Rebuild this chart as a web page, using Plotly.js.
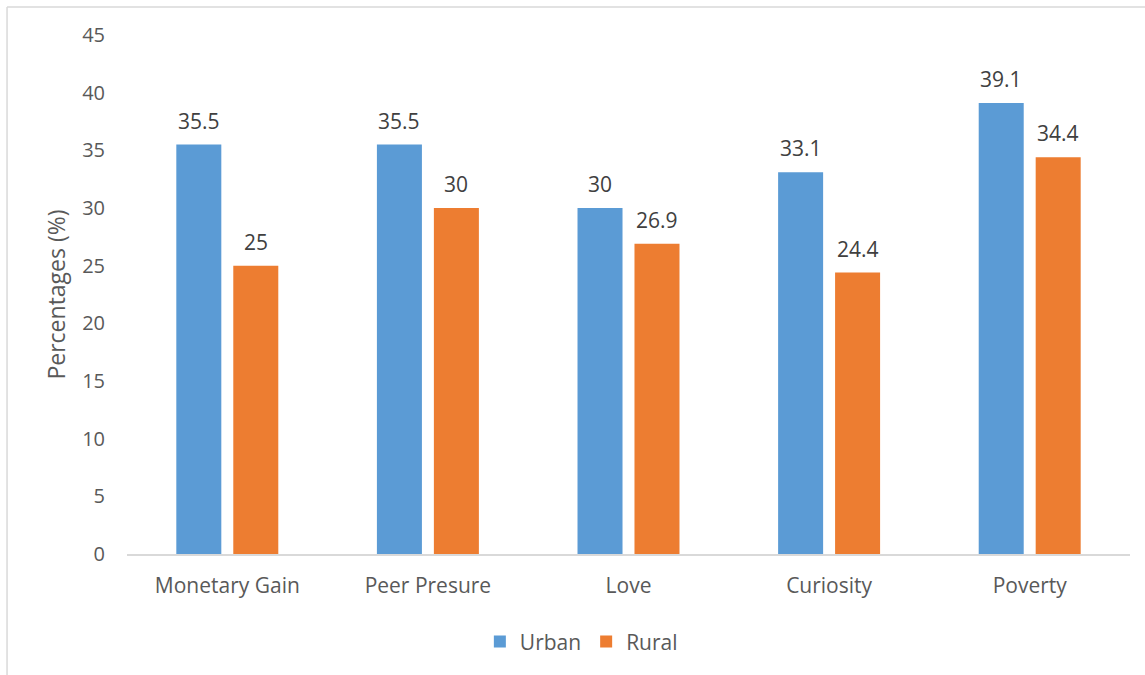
<!DOCTYPE html>
<html>
<head>
<meta charset="utf-8">
<script src="https://cdn.plot.ly/plotly-3.0.1.min.js"></script>
<style>html,body{margin:0;padding:0;background:#fff;}#chart{width:1145px;height:675px;}</style>
</head>
<body>
<div id="chart"></div>
<script>
const categories = ["Monetary Gain", "Peer Presure", "Love", "Curiosity", "Poverty"];
const urban = [35.5, 35.5, 30, 33.1, 39.1];
const rural = [25, 30, 26.9, 24.4, 34.4];
const yTicks = [0, 5, 10, 15, 20, 25, 30, 35, 40, 45];

const fontFam = "Open Sans, Noto Sans, sans-serif";
const BARGAP = 0.432, GROUPGAP = 0.21;
const off = (1 - BARGAP) / 4;

const traces = [
  {type: "bar", name: "Urban", x: categories, y: urban, marker: {color: "#5B9BD5"}},
  {type: "bar", name: "Rural", x: categories, y: rural, marker: {color: "#ED7D31"}}
];

const labelFont = {family: fontFam, size: 21, color: "#404040"};
const annotations = [];
categories.forEach((c, i) => {
  annotations.push({x: i - off, y: urban[i], xref: "x", yref: "y", text: String(urban[i]),
    showarrow: false, yanchor: "bottom", yshift: 8, font: labelFont});
  annotations.push({x: i + off, y: rural[i], xref: "x", yref: "y", text: String(rural[i]),
    showarrow: false, yanchor: "bottom", yshift: 8, font: labelFont});
});

const layout = {
  width: 1145, height: 675,
  margin: {l: 127, r: 15, t: 35, b: 119},
  paper_bgcolor: "#fff", plot_bgcolor: "#fff",
  barmode: "group", bargap: BARGAP, bargroupgap: GROUPGAP,
  font: {family: fontFam, color: "#595959", size: 20},
  xaxis: {type: "category", showgrid: false, showline: true, linecolor: "#D9D9D9", linewidth: 1.5,
          ticks: "", ticklabelstandoff: 12, tickfont: {size: 21, color: "#595959"}, fixedrange: true},
  yaxis: {range: [0, 45], tickvals: yTicks, ticktext: yTicks.map(String), showgrid: false,
          zeroline: false, showline: false, ticks: "", ticklabelstandoff: 21,
          tickfont: {size: 20, color: "#595959"},
          title: {text: "Percentages (%)", font: {size: 23, color: "#595959"}, standoff: 10}},
  showlegend: true,
  legend: {orientation: "h", x: 0.453, xanchor: "center", y: -0.13, yanchor: "top",
           font: {size: 21, color: "#595959"}, itemwidth: 30, traceorder: "normal"},
  annotations: annotations,
  shapes: [
    {type: "line", xref: "paper", yref: "paper", x0: -0.1196, x1: 1.02, y0: 1.054, y1: 1.054,
     line: {color: "#D9D9D9", width: 1.5}},
    {type: "line", xref: "paper", yref: "paper", x0: -0.1196, x1: -0.1196, y0: 1.054, y1: -0.3,
     line: {color: "#D9D9D9", width: 1.5}}
  ]
};
Plotly.newPlot("chart", traces, layout, {displayModeBar: false, staticPlot: true});
</script>
</body>
</html>
